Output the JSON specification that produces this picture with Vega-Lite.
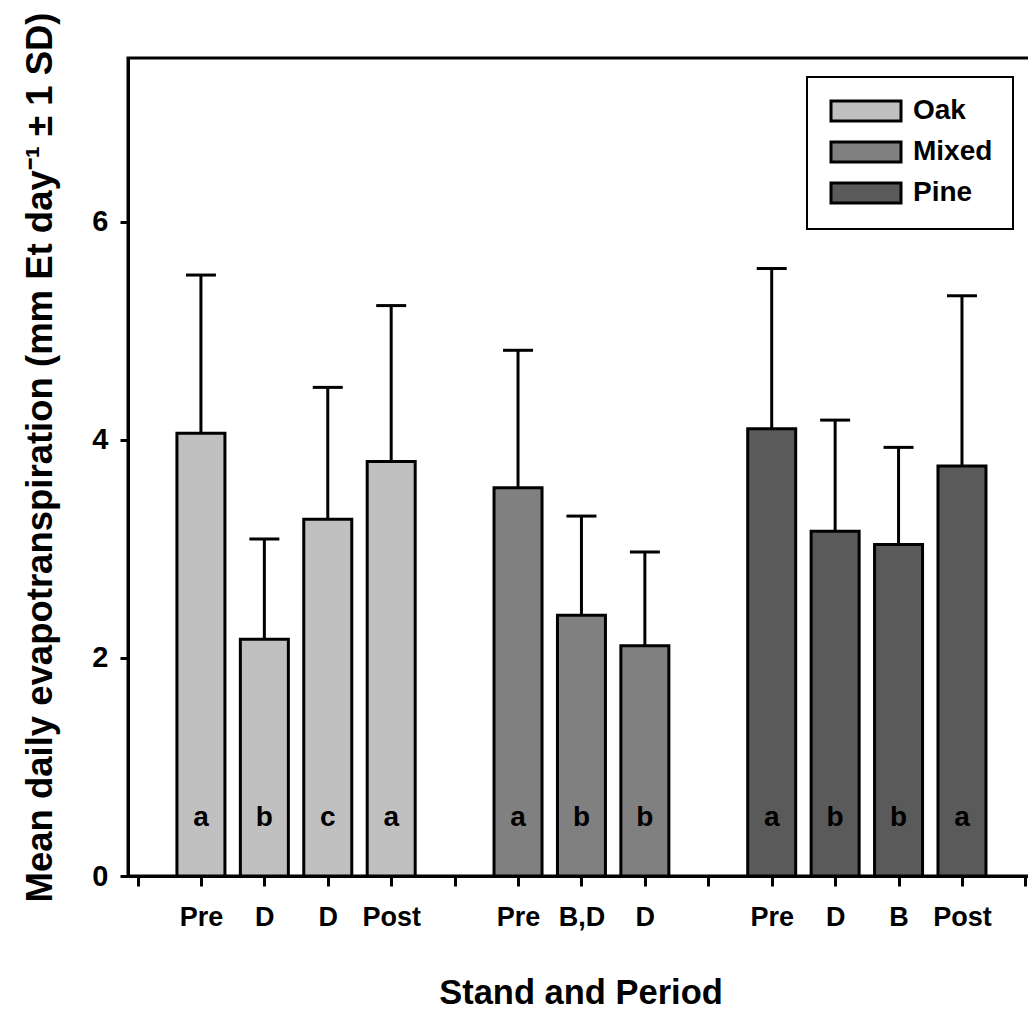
{
  "$schema": "https://vega.github.io/schema/vega-lite/v6.json",
  "autosize": "none",
  "width": 905,
  "height": 818,
  "padding": {"left": 128, "top": 58, "right": 0, "bottom": 134},
  "background": "white",
  "config": {
    "font": "Liberation Sans",
    "view": {"stroke": "black", "strokeWidth": 3},
    "axis": {"domainColor": "black", "domainWidth": 3, "tickColor": "black", "tickWidth": 3, "labelFont": "Liberation Sans", "labelFontWeight": "bold", "labelColor": "black", "titleFont": "Liberation Sans", "titleFontWeight": "bold", "titleColor": "black", "grid": false}
  },
  "data": {
    "values": [
      {"pos": 1, "stand": "Oak", "period": "Pre", "mean": 4.06, "top": 5.51, "letter": "a"},
      {"pos": 2, "stand": "Oak", "period": "D", "mean": 2.17, "top": 3.09, "letter": "b"},
      {"pos": 3, "stand": "Oak", "period": "D", "mean": 3.27, "top": 4.48, "letter": "c"},
      {"pos": 4, "stand": "Oak", "period": "Post", "mean": 3.80, "top": 5.23, "letter": "a"},
      {"pos": 6, "stand": "Mixed", "period": "Pre", "mean": 3.56, "top": 4.82, "letter": "a"},
      {"pos": 7, "stand": "Mixed", "period": "B,D", "mean": 2.39, "top": 3.30, "letter": "b"},
      {"pos": 8, "stand": "Mixed", "period": "D", "mean": 2.11, "top": 2.97, "letter": "b"},
      {"pos": 10, "stand": "Pine", "period": "Pre", "mean": 4.10, "top": 5.57, "letter": "a"},
      {"pos": 11, "stand": "Pine", "period": "D", "mean": 3.16, "top": 4.18, "letter": "b"},
      {"pos": 12, "stand": "Pine", "period": "B", "mean": 3.04, "top": 3.93, "letter": "b"},
      {"pos": 13, "stand": "Pine", "period": "Post", "mean": 3.76, "top": 5.32, "letter": "a"}
    ]
  },
  "encoding": {
    "x": {
      "field": "pos", "type": "quantitative",
      "scale": {"domain": [-0.15, 14.12], "nice": false, "zero": false, "padding": 0},
      "axis": {
        "title": "Stand and Period", "titleFontSize": 34.5, "titlePadding": 46,
        "values": [0,1,2,3,4,5,6,7,8,9,10,11,12,13,14],
        "labelExpr": "['','Pre','D','D','Post','','Pre','B,D','D','','Pre','D','B','Post',''][datum.value]",
        "labelFontSize": 27, "labelPadding": 18, "tickSize": 10, "labelFlush": false, "labelOverlap": false
      }
    }
  },
  "layer": [
    {
      "mark": {"type": "rule", "stroke": "black", "strokeWidth": 3},
      "encoding": {
        "y": {"field": "mean", "type": "quantitative"},
        "y2": {"field": "top"}
      }
    },
    {
      "mark": {"type": "tick", "orient": "horizontal", "size": 30, "thickness": 3, "color": "black", "opacity": 1},
      "encoding": {
        "y": {"field": "top", "type": "quantitative"}
      }
    },
    {
      "mark": {"type": "bar", "width": 48, "stroke": "black", "strokeWidth": 3, "opacity": 1},
      "encoding": {
        "y": {
          "field": "mean", "type": "quantitative",
          "scale": {"domain": [0, 7.5], "nice": false},
          "axis": {
            "title": "Mean daily evapotranspiration (mm Et day⁻¹ ± 1 SD)", "titleFontSize": 36.5, "titlePadding": 32, "titleY": 399,
            "values": [0, 2, 4, 6], "format": "d", "labelFontSize": 29, "labelPadding": 12, "tickSize": 8
          }
        },
        "fill": {
          "field": "stand", "type": "nominal",
          "scale": {"domain": ["Oak", "Mixed", "Pine"], "range": ["#c0c0c0", "#808080", "#5a5a5a"]},
          "legend": {
            "title": null, "orient": "none", "legendX": 679, "legendY": 19,
            "strokeColor": "black", "padding": 20, "fillColor": "white",
            "symbolType": "M-1,-1H6V1H-1Z", "symbolSize": 400, "symbolStrokeColor": "black", "symbolStrokeWidth": 3, "symbolOpacity": 1,
            "labelFontSize": 28, "labelFont": "Liberation Sans", "labelFontWeight": "bold", "labelColor": "black", "labelOffset": 58, "rowPadding": 9,
            "encode": {"legend": {"update": {"strokeWidth": {"value": 2}}}}
          }
        }
      }
    },
    {
      "mark": {"type": "text", "font": "Liberation Sans", "fontWeight": "bold", "fontSize": 28, "color": "black", "baseline": "middle"},
      "encoding": {
        "y": {"datum": 0.53, "type": "quantitative"},
        "text": {"field": "letter"}
      }
    }
  ]
}
